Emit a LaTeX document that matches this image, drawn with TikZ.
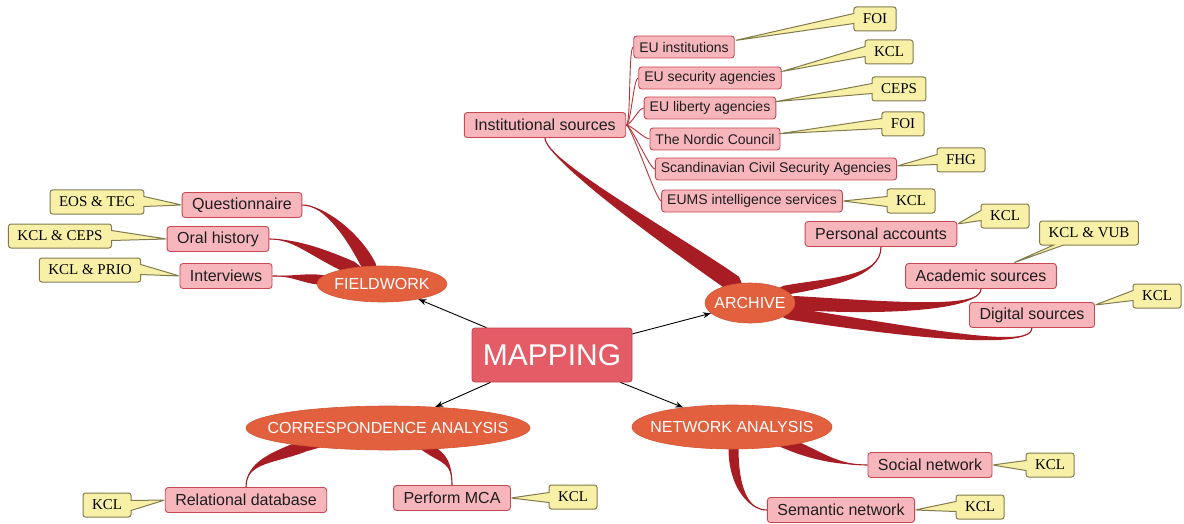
\documentclass[tikz,border=0pt]{standalone}
\usepackage{fontspec}
\setmainfont{Liberation Sans}
\newfontfamily\notefont{Liberation Serif}
\usetikzlibrary{shapes.geometric,shapes.callouts,calc,arrows.meta}
\pgfdeclarelayer{background}
\pgfsetlayers{background,main}

\definecolor{boxfill}{RGB}{247,182,188}
\definecolor{boxline}{RGB}{200,72,82}
\definecolor{ovalfill}{RGB}{226,96,62}
\definecolor{ovalline}{RGB}{212,84,52}
\definecolor{rootfill}{RGB}{228,92,102}
\definecolor{rootline}{RGB}{196,62,74}
\definecolor{branchred}{RGB}{168,28,36}
\definecolor{twigred}{RGB}{185,52,58}
\definecolor{notefill}{RGB}{249,240,168}
\definecolor{noteline}{RGB}{128,122,78}
\definecolor{boxtext}{RGB}{30,30,30}

% tapered branch: #1 thin end, #2 its control offset, #3 control offset at wide end,
% #4 wide end, #5 half-width vector at wide end, #6 point hidden under the oval
\newcommand\taper[6]{%
  \fill[branchred] #1 .. controls ($#1+#2$) and ($#4+#5+#3$) .. ($#4+#5$) -- #6
     -- ($#4-#5$) .. controls ($#4-#5+#3$) and ($#1+#2$) .. #1 -- cycle;
  \draw[branchred,line width=1.1pt] #1 .. controls ($#1+#2$) and ($#4+#3$) .. #4;
}

\begin{document}
\begin{tikzpicture}[x=1pt,y=-1pt,
  mapbox/.style={rectangle, rounded corners=3pt, fill=rootfill, draw=rootline, line width=0.8pt,
    minimum width=160pt, minimum height=54pt, inner sep=0pt, text=white,
    font=\fontsize{30}{32}\selectfont},
  ovalnode/.style={ellipse, fill=ovalfill, draw=ovalline, line width=0.6pt, inner sep=0pt},
  ovaltext/.style={inner sep=0pt, text=white, font=\fontsize{16}{18}\selectfont},
  topicbox/.style={rectangle, rounded corners=3pt, fill=boxfill, draw=boxline, line width=0.9pt,
    text=boxtext, font=\fontsize{16}{18}\selectfont, inner xsep=10pt, inner ysep=0pt,
    minimum height=25pt},
  subbox/.style={topicbox, font=\fontsize{14}{16}\selectfont, inner xsep=5.5pt, minimum height=22pt},
  notebox/.style={rectangle callout, rounded corners=2.5pt, fill=notefill, draw=noteline,
    line width=1pt, text=black, font=\notefont\fontsize{15}{17}\selectfont,
    inner xsep=9pt, inner ysep=0pt, minimum height=24pt, callout pointer width=10pt},
  arrowlink/.style={draw=black, line width=0.9pt, -{Stealth[length=8pt,width=6pt]}},
  twigline/.style={draw=twigred, line width=0.9pt}
]
\useasboundingbox (0,0) rectangle (1184,524);

% central topic and the four main themes
\node[mapbox] (map) at (552,355) {MAPPING};
\node[ovalnode, minimum width=130pt, minimum height=36pt] (fw) at (382,284) {};
\node[ovaltext] (fwt) at (fw) {FIELDWORK};
\node[ovalnode, minimum width=90pt, minimum height=40pt] (ar) at (750,303) {};
\node[ovaltext] (art) at (ar) {ARCHIVE};
\node[ovalnode, minimum width=284pt, minimum height=44pt] (ca) at (388,428) {};
\node[ovaltext] (cat) at (ca) {CORRESPONDENCE ANALYSIS};
\node[ovalnode, minimum width=200pt, minimum height=44pt] (na) at (732,427) {};
\node[ovaltext] (nat) at (na) {NETWORK ANALYSIS};

\draw[arrowlink] (map) -- (fw);
\draw[arrowlink] (map) -- (ar);
\draw[arrowlink] (map) -- (ca);
\draw[arrowlink] (map) -- (na);

% fieldwork
\node[topicbox] (q)  at (242,205) {Questionnaire};
\node[topicbox] (oh) at (218,239) {Oral history};
\node[topicbox] (iv) at (226,276) {Interviews};

% archive
\node[topicbox] (inst) at (545,125) {Institutional sources};
\node[subbox] (c1) at (684,47)  {EU institutions};
\node[subbox] (c2) at (710,78)  {EU security agencies};
\node[subbox] (c3) at (710,108) {EU liberty agencies};
\node[subbox] (c4) at (715,139) {The Nordic Council};
\node[subbox] (c5) at (776,169) {Scandinavian Civil Security Agencies};
\node[subbox] (c6) at (752,201) {EUMS intelligence services};
\node[topicbox] (pa) at (881,234)  {Personal accounts};
\node[topicbox] (as) at (981,276)  {Academic sources};
\node[topicbox] (ds) at (1032,315) {Digital sources};

% correspondence analysis
\node[topicbox] (rd)  at (246,500) {Relational database};
\node[topicbox] (mca) at (452,498) {Perform MCA};

% network analysis
\node[topicbox] (sn) at (930,465) {Social network};
\node[topicbox] (sm) at (841,510) {Semantic network};

% partner notes
\node[notebox, callout absolute pointer={($(c1.north east)+(0,5)$)}] (k1) at (875,19) {FOI};
\node[notebox, callout absolute pointer={($(c2.north east)+(0,5)$)}] (k2) at (889,52) {KCL};
\node[notebox, callout absolute pointer={($(c3.north east)+(0,5)$)}] (k3) at (899,89) {CEPS};
\node[notebox, callout absolute pointer={($(c4.north east)+(0,6)$)}] (k4) at (903,124) {FOI};
\node[notebox, callout absolute pointer={($(c5.east)+(0,-3)$)}] (k5) at (961,160) {FHG};
\node[notebox, callout absolute pointer={(c6.east)}] (k6) at (911,201) {KCL};
\node[notebox, callout absolute pointer={($(pa.north east)+(0,3)$)}] (k7) at (1005,216) {KCL};
\node[notebox, callout absolute pointer={($(as.north)+(32,0)$)}] (k8) at (1089,233) {KCL \& VUB};
\node[notebox, callout absolute pointer={($(ds.north east)+(0,3)$)}] (k9) at (1157,296) {KCL};
\node[notebox, callout absolute pointer={(q.west)}]  (k10) at (97,202) {EOS \& TEC};
\node[notebox, callout absolute pointer={(oh.west)}] (k11) at (60,236) {KCL \& CEPS};
\node[notebox, callout absolute pointer={(iv.west)}] (k12) at (90,270) {KCL \& PRIO};
\node[notebox, callout absolute pointer={(rd.west)}]  (k13) at (107,505) {KCL};
\node[notebox, callout absolute pointer={(mca.east)}] (k14) at (573,497) {KCL};
\node[notebox, callout absolute pointer={(sn.east)}]  (k15) at (1050,465) {KCL};
\node[notebox, callout absolute pointer={(sm.east)}]  (k16) at (980,507) {KCL};

\begin{pgfonlayer}{background}
  % fieldwork branches
  \taper{(q.east)}{(22,0)}{(-15,-30)}{(fw.126)}{(6.5,-3)}{(fw.center)}
  \taper{(oh.east)}{(25,0)}{(-35,-15)}{(fw.152)}{(3,-6)}{(fw.center)}
  \taper{(iv.east)}{(20,0)}{(-15,-1)}{(fw.176)}{(0,-5)}{(fw.center)}
  % archive branches
  \taper{(inst.south)}{(0,22)}{(-60,-42)}{(ar.130)}{(5,-7.2)}{(ar.center)}
  \taper{(pa.south)}{(0,30)}{(45,-8)}{(ar.20)}{(1.5,4.5)}{(ar.center)}
  \taper{(as.south)}{(0,20)}{(100,6)}{(ar.0)}{(0,7)}{(ar.center)}
  \taper{(ds.south)}{(0,22)}{(130,20)}{(ar.-15)}{(1,-6)}{(ar.center)}
  % correspondence analysis branches
  \taper{(rd.north)}{(0,-25)}{(-30,12)}{(ca.192)}{(2.7,5.4)}{(ca.center)}
  \taper{(mca.north)}{(0,-22)}{(15,10)}{(ca.333)}{(3,-4)}{(ca.center)}
  % network analysis branches
  \taper{(sn.west)}{(-30,0)}{(25,10)}{(na.-17)}{(3,-5)}{(na.center)}
  \taper{(sm.west)}{(-20,0)}{(0,35)}{(na.-86)}{(5,0)}{(na.center)}
  % institutional sub-sources
  \foreach \c in {c1,c2,c3,c4,c5,c6}
    \draw[twigline] (inst.east) .. controls ($(inst.east)+(5,0)$) and ($(\c.west)+(-5,0)$) .. (\c.west);
\end{pgfonlayer}
\end{tikzpicture}
\end{document}
